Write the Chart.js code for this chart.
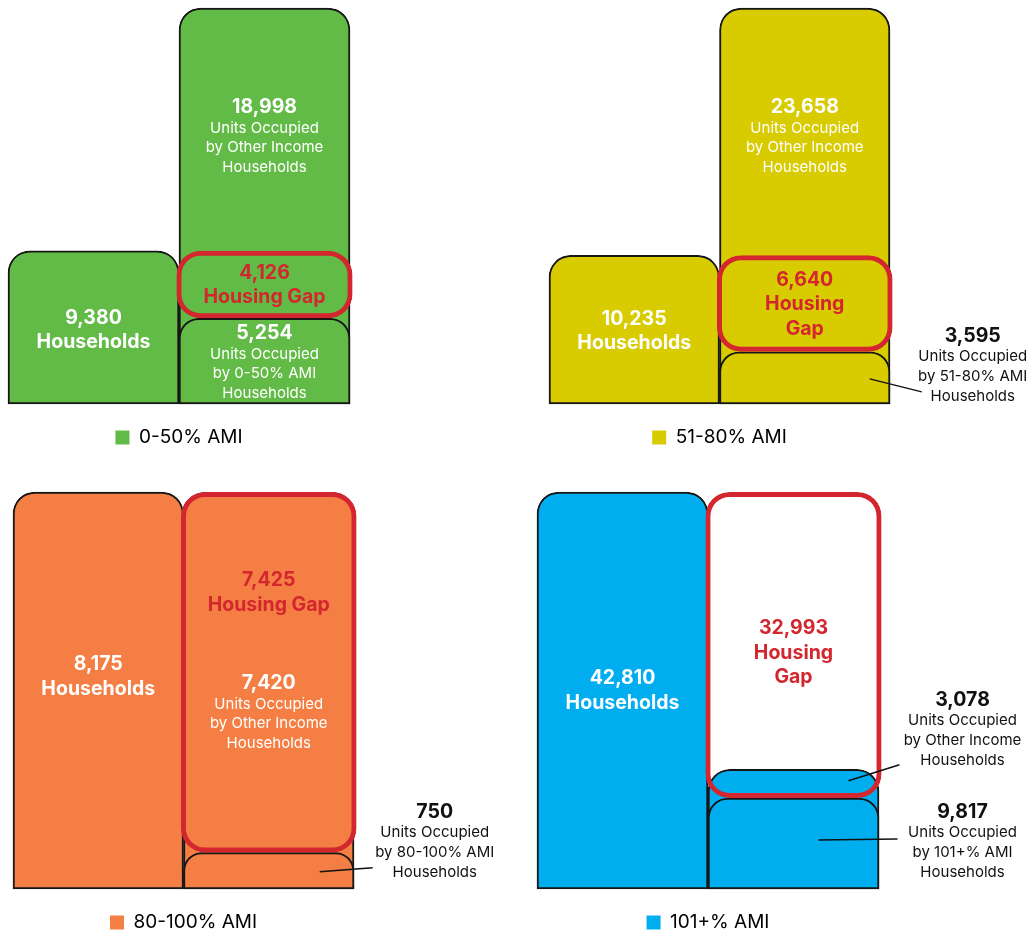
<!DOCTYPE html>
<html>
<head>
<meta charset="utf-8">
<script src="https://cdn.jsdelivr.net/npm/chart.js@4.4.1/dist/chart.umd.min.js"></script>
<style>
  html, body { margin: 0; padding: 0; background: #fff; overflow: hidden; }
  body { width: 1032px; height: 934px; position: relative; }
  .panel { position: absolute; }
</style>
</head>
<body>
<div class="panel" style="left:0px;top:0px"><canvas id="c0" width="516" height="457"></canvas></div>
<div class="panel" style="left:516px;top:0px"><canvas id="c1" width="516" height="457"></canvas></div>
<div class="panel" style="left:0px;top:461px"><canvas id="c2" width="516" height="481"></canvas></div>
<div class="panel" style="left:516px;top:461px"><canvas id="c3" width="516" height="481"></canvas></div>
<script>
// data, one entry per income group
const groups = ["0-50% AMI", "51-80% AMI", "80-100% AMI", "101+% AMI"];
const households = [9380, 10235, 8175, 42810];
const unitsOccupiedByGroup = [5254, 3595, 750, 9817];
const unitsOccupiedByOther = [18998, 23658, 7420, 3078];
const housingGap = [4126, 6640, 7425, 32993];

const colors = ["#63BB47", "#D8CB00", "#F47E43", "#00AEEF"];
const RED = "#D3262F";
const OUTLINE = "#161616";
const FONT = "Inter, 'Open Sans', sans-serif";

// chart area padding of each panel (canvas is 516 wide)
const paddings = [
  { left: 8, right: 166, top: 8, bottom: 0 },
  { left: 33, right: 142, top: 8, bottom: 0 },
  { left: 13, right: 162, top: 31, bottom: 0 },
  { left: 21, right: 153, top: 31, bottom: 0 },
];

// text placed inside the bars: anchor on a segment, dy = centre of first line
const inside = [
  [
    { seg: "hh", at: "mid", dy: -9.5, bold: true, color: "#fff", lines: ["Households"] },
    { seg: "gap", at: "mid", dy: -11.7, bold: true, color: RED, lines: ["Housing Gap"] },
    { seg: "occ", at: "mid", dy: -28, bold: false, color: "#fff", lines: "group" },
    { seg: "other", at: "top", dy: 99, bold: false, color: "#fff", lines: "other" },
  ],
  [
    { seg: "hh", at: "mid", dy: -10.8, bold: true, color: "#fff", lines: ["Households"] },
    { seg: "gap", at: "mid", dy: -23.7, bold: true, color: RED, lines: ["Housing", "Gap"] },
    { seg: "other", at: "top", dy: 99, bold: false, color: "#fff", lines: "other" },
  ],
  [
    { seg: "hh", at: "mid", dy: -26, bold: true, color: "#fff", lines: ["Households"] },
    { seg: "gap", at: "mid", dy: -92, bold: true, color: RED, lines: ["Housing Gap"] },
    { seg: "other", at: "top", dy: 191, bold: false, color: "#fff", lines: "other" },
  ],
  [
    { seg: "hh", at: "mid", dy: -12, bold: true, color: "#fff", lines: ["Households"] },
    { seg: "gap", at: "mid", dy: -16.6, bold: true, color: RED, lines: ["Housing", "Gap"] },
  ],
];

// callouts to the right of the units bar, offsets from the segment centre
const callouts = [
  [],
  [{ seg: "occ", lines: "group", line: [65, 1, 117, 14], tx: 168, dy: -42 }],
  [{ seg: "occ", lines: "group", line: [51, 1, 104, -3], tx: 166, dy: -59 }],
  [
    { seg: "other", lines: "other", line: [55, -3, 106, -19], tx: 169, dy: -84 },
    { seg: "occ", lines: "group", line: [25, -3.5, 104, -4.5], tx: 169, dy: -31.5 },
  ],
];

const DS = { gap: 0, occ: 1, total: 2, hh: 3 };

function segValue(seg, i) {
  if (seg === "hh") return households[i];
  if (seg === "gap") return housingGap[i];
  if (seg === "occ") return unitsOccupiedByGroup[i];
  return unitsOccupiedByOther[i];
}

function segLines(spec, i) {
  if (spec.lines === "group") return ["Units Occupied", "by " + groups[i], "Households"];
  if (spec.lines === "other") return ["Units Occupied", "by Other Income", "Households"];
  return spec.lines;
}

function box(chart, ds, index) {
  const el = chart.getDatasetMeta(ds).data[index];
  const p = el.getProps(["x", "y", "base"], true);
  return { x: p.x, top: Math.min(p.y, p.base), bottom: Math.max(p.y, p.base) };
}

function segBox(chart, seg) {
  if (seg === "hh") return box(chart, DS.hh, 0);
  if (seg === "other") {
    const t = box(chart, DS.total, 1);
    const o = box(chart, DS.occ, 1);
    return { x: t.x, top: t.top, bottom: o.top };
  }
  return box(chart, DS[seg], 1);
}

function drawBlock(ctx, x, y, value, lines, bold, color) {
  ctx.fillStyle = color;
  ctx.textAlign = "center";
  ctx.textBaseline = "middle";
  ctx.font = "700 19.5px " + FONT;
  ctx.fillText(value.toLocaleString("en-US"), x, y);
  let prevBold = true;
  lines.forEach((t) => {
    if (bold) {
      y += 24.5;
      ctx.font = "700 19.5px " + FONT;
    } else {
      y += prevBold ? 21 : 19.7;
      ctx.font = "400 15px " + FONT;
    }
    prevBold = bold;
    ctx.fillText(t, x, y);
  });
}

const labelPlugin = {
  id: "barLabels",
  afterDatasetsDraw(chart) {
    const i = chart.options.panelIndex;
    const ctx = chart.ctx;
    ctx.save();
    inside[i].forEach((s) => {
      const b = segBox(chart, s.seg);
      const anchor = s.at === "top" ? b.top : (b.top + b.bottom) / 2;
      drawBlock(ctx, b.x, anchor + s.dy, segValue(s.seg, i), segLines(s, i), s.bold, s.color);
    });
    callouts[i].forEach((c) => {
      const b = segBox(chart, c.seg);
      const cy = (b.top + b.bottom) / 2;
      ctx.strokeStyle = "#111";
      ctx.lineWidth = 1.5;
      ctx.beginPath();
      ctx.moveTo(b.x + c.line[0], cy + c.line[1]);
      ctx.lineTo(b.x + c.line[2], cy + c.line[3]);
      ctx.stroke();
      drawBlock(ctx, b.x + c.tx, cy + c.dy, segValue(c.seg, i), segLines(c, i), false, "#111");
    });
    ctx.restore();
  },
};

groups.forEach((g, i) => {
  const occ = unitsOccupiedByGroup[i];
  const allUnits = occ + unitsOccupiedByOther[i];
  const topRound = (r) => ({ topLeft: r, topRight: r, bottomLeft: 0, bottomRight: 0 });
  const solid = {
    backgroundColor: colors[i],
    borderColor: OUTLINE,
    borderWidth: 2,
    borderSkipped: false,
  };

  new Chart(document.getElementById("c" + i), {
    type: "bar",
    data: {
      labels: ["Households", "Units"],
      datasets: [
        {
          label: "Housing Gap",
          data: [null, [occ, occ + housingGap[i]]],
          backgroundColor: "rgba(0,0,0,0)",
          borderColor: RED,
          borderWidth: 5,
          borderRadius: 24,
          borderSkipped: false,
          barPercentage: 1.03,
        },
        { label: "Units Occupied by " + g, data: [null, occ], ...solid, borderRadius: topRound(20) },
        { label: "All Units", data: [null, allUnits], ...solid, borderRadius: topRound(22) },
        { label: "Households", data: [households[i], null], ...solid, borderRadius: topRound(22) },
      ],
    },
    options: {
      panelIndex: i,
      responsive: false,
      animation: false,
      datasets: {
        bar: { grouped: false, categoryPercentage: 1, barPercentage: 1, clip: false },
      },
      layout: { padding: paddings[i] },
      scales: {
        x: { display: false },
        y: { display: false, min: 0, max: Math.max(households[i], allUnits) },
      },
      plugins: {
        tooltip: { enabled: false },
        legend: {
          position: "bottom",
          labels: {
            padding: 24,
            boxWidth: 14,
            boxHeight: 14,
            color: "#222",
            font: { family: FONT, size: 19 },
            generateLabels: () => [
              { text: g, fillStyle: colors[i], strokeStyle: colors[i], lineWidth: 0, hidden: false, datasetIndex: 3 },
            ],
          },
        },
      },
    },
    plugins: [labelPlugin],
  });
});
</script>
</body>
</html>
